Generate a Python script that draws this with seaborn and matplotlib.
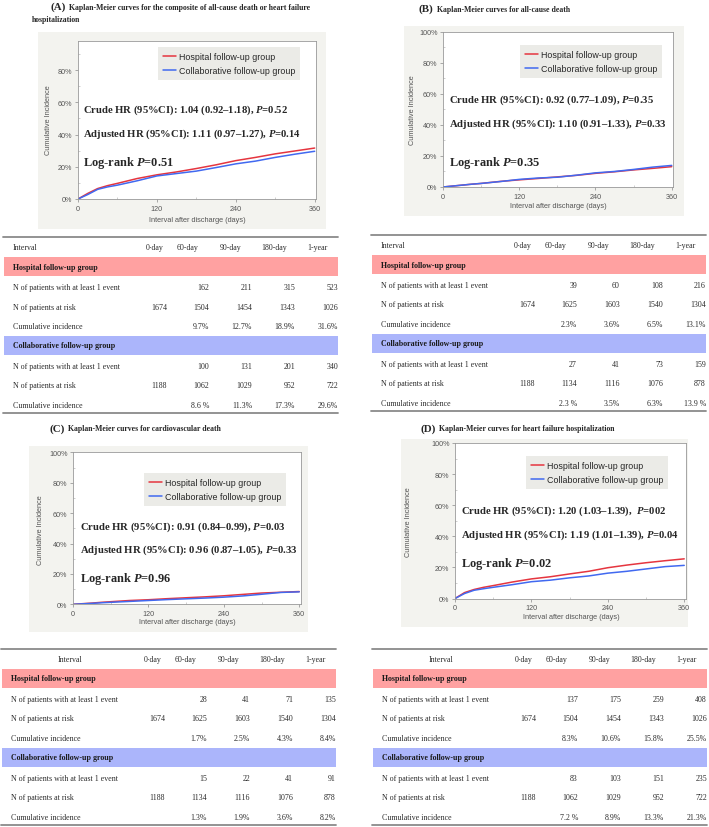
import matplotlib
matplotlib.use("Agg")
import matplotlib.pyplot as plt
from matplotlib.patches import Rectangle
from matplotlib.lines import Line2D
from matplotlib.ticker import PercentFormatter, MultipleLocator
import numpy as np
import pandas as pd
import seaborn as sns

# ---- data ----
km_days = [0, 15, 30, 45, 60, 90, 120, 150, 180, 210, 240, 270, 300, 330, 360]
hosp_A = [0, 3.5, 6.5, 8.3, 9.7, 12.7, 15.0, 16.8, 18.9, 21.2, 23.8, 25.8, 28.0, 29.8, 31.6]
coll_A = [0, 2.8, 6.0, 7.5, 8.6, 11.3, 14.3, 15.8, 17.3, 19.5, 21.8, 23.5, 25.8, 27.8, 29.6]
hosp_B = [0, 0.6, 1.2, 1.8, 2.3, 3.6, 4.6, 5.5, 6.5, 7.5, 8.8, 9.8, 11.0, 12.0, 13.1]
coll_B = [0, 0.6, 1.2, 1.8, 2.3, 3.5, 4.9, 5.8, 6.3, 7.6, 9.1, 10.0, 11.3, 12.8, 13.9]
hosp_C = [0, 0.4, 0.8, 1.3, 1.7, 2.5, 3.0, 3.7, 4.3, 4.9, 5.6, 6.5, 7.4, 7.9, 8.4]
coll_C = [0, 0.3, 0.6, 1.0, 1.3, 1.9, 2.5, 3.1, 3.6, 4.1, 4.7, 5.5, 6.6, 7.8, 8.2]
hosp_D = [0, 3.8, 5.8, 7.2, 8.3, 10.6, 12.6, 14.0, 15.8, 17.5, 19.8, 21.5, 23.0, 24.3, 25.5]
coll_D = [0, 3.2, 5.3, 6.3, 7.2, 8.9, 10.8, 11.8, 13.3, 14.5, 16.3, 17.5, 19.0, 20.5, 21.3]

group_names = ["Hospital follow-up group", "Collaborative follow-up group"]
interval_cols = ["0-day", "60-day", "90-day", "180-day", "1-year"]
row_names = ["N of patients with at least 1 event", "N of patients at risk", "Cumulative incidence"]

titles = {
    "A": ["Kaplan-Meier curves for the composite of all-cause death or heart failure", "hospitalization"],
    "B": ["Kaplan-Meier curves for all-cause death"],
    "C": ["Kaplan-Meier curves for cardiovascular death"],
    "D": ["Kaplan-Meier curves for heart failure hospitalization"],
}
crude = {
    "A": "Crude HR (95%CI): 1.04 (0.92\u20131.18), $P$=0.52",
    "B": "Crude HR (95%CI): 0.92 (0.77\u20131.09), $P$=0.35",
    "C": "Crude HR (95%CI): 0.91 (0.84\u20130.99), $P$=0.03",
    "D": "Crude HR (95%CI): 1.20 (1.03\u20131.39),  $P$=002",
}
adjusted = {
    "A": "Adjusted HR (95%CI): 1.11 (0.97\u20131.27), $P$=0.14",
    "B": "Adjusted HR (95%CI): 1.10 (0.91\u20131.33), $P$=0.33",
    "C": "Adjusted HR (95%CI): 0.96 (0.87\u20131.05), $P$=0.33",
    "D": "Adjusted HR (95%CI): 1.19 (1.01\u20131.39), $P$=0.04",
}
logrank = {"A": "Log-rank $P$=0.51", "B": "Log-rank $P$=0.35",
           "C": "Log-rank $P$=0.96", "D": "Log-rank $P$=0.02"}

# table values: hospital rows then collaborative rows
tab_A = [[["", "162", "211", "315", "523"], ["1674", "1504", "1454", "1343", "1026"], ["", "9.7%", "12.7%", "18.9%", "31.6%"]],
         [["", "100", "131", "201", "340"], ["1188", "1062", "1029", "952", "722"], ["", "8.6 %", "11.3%", "17.3%", "29.6%"]]]
tab_B = [[["", "39", "60", "108", "216"], ["1674", "1625", "1603", "1540", "1304"], ["", "2.3%", "3.6%", "6.5%", "13.1%"]],
         [["", "27", "41", "73", "159"], ["1188", "1134", "1116", "1076", "878"], ["", "2.3 %", "3.5%", "6.3%", "13.9 %"]]]
tab_C = [[["", "28", "41", "71", "135"], ["1674", "1625", "1603", "1540", "1304"], ["", "1.7%", "2.5%", "4.3%", "8.4%"]],
         [["", "15", "22", "41", "91"], ["1188", "1134", "1116", "1076", "878"], ["", "1.3%", "1.9%", "3.6%", "8.2%"]]]
tab_D = [[["", "137", "175", "259", "408"], ["1674", "1504", "1454", "1343", "1026"], ["", "8.3%", "10.6%", "15.8%", "25.5%"]],
         [["", "83", "103", "151", "235"], ["1188", "1062", "1029", "952", "722"], ["", "7.2 %", "8.9%", "13.3%", "21.3%"]]]

# ---- style ----
sns.set_style("white")
plt.rcParams["font.family"] = ["Liberation Serif", "DejaVu Serif"]
plt.rcParams["mathtext.fontset"] = "custom"
plt.rcParams["mathtext.rm"] = "Liberation Serif:bold"
plt.rcParams["mathtext.it"] = "Liberation Serif:italic:bold"
plt.rcParams["mathtext.bf"] = "Liberation Serif:bold"

W, H = 709, 828
fig = plt.figure(figsize=(W / 100, H / 100), dpi=100)
fig.patch.set_facecolor("white")

def fx(x):
    return x / W

def fy(y):
    return 1 - y / H

RED = "#e5353f"
BLUE = "#4169f0"
SANS = ["Liberation Sans", "DejaVu Sans"]

# panel geometry in pixels
panels = {
    "A": dict(box=(38, 33, 326, 230), ax=(78, 42, 316, 200), ymax=98, leg=(158, 48), tx=83,
              ty=(110, 134, 163), ylab=(48, 120), xlab=(197, 220), title=(58, 7)),
    "B": dict(box=(404, 27, 684, 217), ax=(443, 32.7, 673, 188), ymax=100, leg=(520, 46), tx=449,
              ty=(100, 124, 163), ylab=(412, 110), xlab=(558, 207), title=(426, 9)),
    "C": dict(box=(29, 447, 308, 633), ax=(73, 453.3, 300.5, 605.3), ymax=100, leg=(144, 474), tx=80,
              ty=(527, 550, 579), ylab=(40, 530), xlab=(187, 623), title=(57, 429)),
    "D": dict(box=(401, 440, 688, 628), ax=(455, 444, 685.5, 599.5), ymax=100, leg=(526, 457), tx=461,
              ty=(511, 535, 564), ylab=(408, 522), xlab=(571, 618), title=(428, 429)),
}
curves = {"A": (hosp_A, coll_A), "B": (hosp_B, coll_B), "C": (hosp_C, coll_C), "D": (hosp_D, coll_D)}

for key, p in panels.items():
    bx0, by0, bx1, by1 = p["box"]
    fig.add_artist(Rectangle((fx(bx0), fy(by1)), fx(bx1 - bx0), (by1 - by0) / H,
                             transform=fig.transFigure, facecolor="#f3f3ef", edgecolor="none", zorder=0))
    ax0, atop, ax1, abot = p["ax"]
    ax = fig.add_axes([fx(ax0), fy(abot), fx(ax1 - ax0), (abot - atop) / H])
    ax.set_facecolor("white")
    hosp, coll = curves[key]
    df = pd.DataFrame({"day": km_days * 2, "inc": hosp + coll,
                       "group": [group_names[0]] * len(km_days) + [group_names[1]] * len(km_days)})
    sns.lineplot(data=df, x="day", y="inc", hue="group", palette=[RED, BLUE],
                 linewidth=1.1, ax=ax, legend=False)
    ax.set_xticks([0, 120, 240, 360])
    ax.set_yticks([0, 20, 40, 60, 80, 100])
    ax.set_xlim(0, 362)
    ax.set_ylim(0, p["ymax"])
    ax.xaxis.set_minor_locator(MultipleLocator(60))
    ax.yaxis.set_minor_locator(MultipleLocator(10))
    ax.yaxis.set_major_formatter(PercentFormatter(decimals=0))
    ax.set_xlabel("")
    ax.set_ylabel("")
    ax.tick_params(which="major", direction="out", length=2.5, width=0.5, color="#888",
                   labelsize=5.2, labelcolor="#555", pad=1.5, left=True, bottom=True)
    ax.tick_params(which="minor", direction="in", length=1.5, width=0.4, color="#aaa", left=True, bottom=True)
    for lab in ax.get_xticklabels() + ax.get_yticklabels():
        lab.set_family(SANS)
    for sp in ax.spines.values():
        sp.set_color("#999")
        sp.set_linewidth(0.6)
    handles = [Line2D([], [], color=RED, lw=1.1), Line2D([], [], color=BLUE, lw=1.1)]
    leg = ax.legend(handles, group_names, loc="upper left",
                    bbox_to_anchor=(fx(p["leg"][0]), fy(p["leg"][1])), bbox_transform=fig.transFigure,
                    frameon=True, fancybox=False, facecolor="#ebebe7", edgecolor="none", framealpha=1,
                    prop={"family": SANS, "size": 6.4}, handlelength=1.5, handletextpad=0.3,
                    borderaxespad=0, borderpad=0.55, labelspacing=0.6)
    # annotations
    fig.text(fx(p["tx"]), fy(p["ty"][0]), crude[key], fontsize=7.65, fontweight="bold", va="center")
    fig.text(fx(p["tx"]), fy(p["ty"][1]), adjusted[key], fontsize=7.65, fontweight="bold", va="center")
    fig.text(fx(p["tx"]), fy(p["ty"][2]), logrank[key], fontsize=8.9, fontweight="bold", va="center")
    fig.text(fx(p["ylab"][0]), fy(p["ylab"][1]), "Cumulative Incidence", rotation=90, family=SANS,
             fontsize=5.3, color="#555", ha="center", va="center")
    fig.text(fx(p["xlab"][0]), fy(p["xlab"][1]), "Interval after discharge (days)", family=SANS,
             fontsize=5.3, color="#555", ha="center", va="center")
    # title
    tx, tyy = p["title"]
    fig.text(fx(tx), fy(tyy), "(" + key + ")", fontsize=7.8, fontweight="bold", ha="center", va="center")
    fig.text(fx(tx + 11), fy(tyy + 0.5), titles[key][0], fontsize=5.6, fontweight="bold", va="center")
    if len(titles[key]) > 1:
        fig.text(fx(32), fy(20), titles[key][1], fontsize=5.6, fontweight="bold", va="center")

# ---- tables ----
tables = {"A": (tab_A, 3, 238, False), "B": (tab_B, 371, 236, False),
          "C": (tab_C, 1, 650, True), "D": (tab_D, 372, 650, True)}
col_right = [164, 206, 249, 292, 335]
col_head = [152, 185, 228, 271, 314]
band_colors = ["#ffa1a1", "#abb5fb"]
TW = 335
TXT = "#2a2a2a"
TFS = 5.65

for key, (vals, x0, top, centered) in tables.items():
    fig.add_artist(Line2D([fx(x0), fx(x0 + TW)], [fy(top), fy(top)], transform=fig.transFigure,
                          color="#8a8a8a", lw=1.3))
    fig.add_artist(Line2D([fx(x0), fx(x0 + TW)], [fy(top + 176), fy(top + 176)], transform=fig.transFigure,
                          color="#8a8a8a", lw=1.3))
    if centered:
        fig.text(fx(x0 + 69), fy(top + 10), "Interval", fontsize=TFS, color=TXT, ha="center", va="center")
    else:
        fig.text(fx(x0 + 10), fy(top + 10), "Interval", fontsize=TFS, color=TXT, va="center")
    for c, name in enumerate(interval_cols):
        fig.text(fx(x0 + col_head[c]), fy(top + 10), name, fontsize=TFS, color=TXT, ha="center", va="center")
    for g in range(2):
        band_top = top + 20 + g * 79
        fig.add_artist(Rectangle((fx(x0 + 1), fy(band_top + 19)), fx(TW - 1), 19 / H,
                                 transform=fig.transFigure, facecolor=band_colors[g], edgecolor="none"))
        fig.text(fx(x0 + 10), fy(band_top + 9.5), group_names[g], fontsize=TFS, fontweight="bold",
                 color="#1a1a1a", va="center")
        for r in range(3):
            ry = band_top + 30 + r * 19.5
            fig.text(fx(x0 + 10), fy(ry), row_names[r], fontsize=TFS, color=TXT, va="center")
            for c in range(5):
                fig.text(fx(x0 + col_right[c]), fy(ry), vals[g][r][c], fontsize=TFS, color=TXT,
                         ha="right", va="center")

fig.savefig("out.png", dpi=100)
